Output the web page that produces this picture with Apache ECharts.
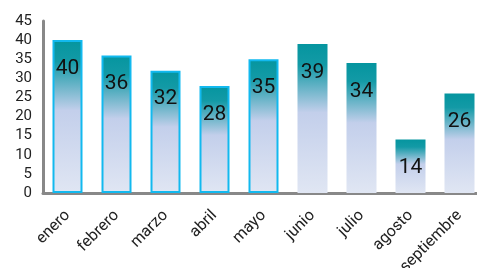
<!DOCTYPE html>
<html><head><meta charset="utf-8">
<script src="https://cdn.jsdelivr.net/npm/echarts@6/dist/echarts.min.js"></script>
<style>html,body{margin:0;padding:0;background:#fff}#c{width:477px;height:268px}</style>
</head><body><div id="c"></div>
<script>
const categories = ['enero','febrero','marzo','abril','mayo','junio','julio','agosto','septiembre'];
const values = [40,36,32,28,35,39,34,14,26];
const bordered = [true,true,true,true,true,false,false,false,false];

const grad = {type:'linear',x:0,y:0,x2:0,y2:1,colorStops:[
  {offset:0,color:'#05959f'},{offset:0.14,color:'#139aa6'},{offset:0.46,color:'#c3cfeb'},{offset:1,color:'#e0e6f3'}]};

const chart = echarts.init(document.getElementById('c'));
chart.setOption({
  animation:false,
  grid:{left:43,top:21,width:441,height:172,containLabel:false,outerBoundsMode:'none'},
  xAxis:{type:'category',data:categories,
    axisLine:{lineStyle:{color:'#888',width:3}},axisTick:{show:false},
    axisLabel:{rotate:45,interval:0,color:'#222',fontSize:16,fontFamily:'Roboto',margin:20}},
  yAxis:{type:'value',min:0,max:45,interval:5,
    axisLine:{show:true,lineStyle:{color:'#888',width:3}},axisTick:{show:false},splitLine:{show:false},
    axisLabel:{color:'#222',fontSize:15,fontFamily:'Roboto',margin:11}},
  series:[{type:'bar',barWidth:30,
    data:values.map((v,i)=>({value:v,itemStyle:{color:grad,borderColor:bordered[i]?'#12b9ef':'transparent',borderWidth:bordered[i]?2:0}})),
    label:{show:true,position:'insideTop',distance:18,color:'#111',fontSize:21,fontFamily:'Roboto'}
  }]
});
</script></body></html>
